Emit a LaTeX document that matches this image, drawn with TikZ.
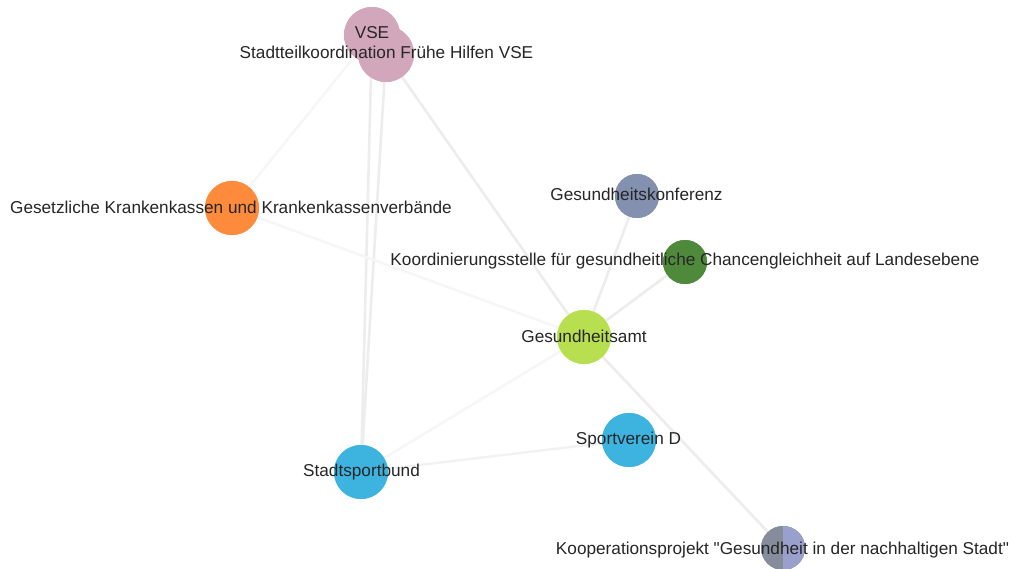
\documentclass[tikz,border=0pt]{standalone}
\usepackage{fontspec}
\setmainfont{Liberation Sans}[Ligatures=TeXOff]
\begin{document}
\begin{tikzpicture}[x=1pt,y=-1pt,
  actor/.style={circle,draw=none,inner sep=0pt,minimum size=#1},
  actor/.default=54pt,
  lbl/.style={inner sep=0pt,text height=12pt,text depth=0pt,
    font=\fontsize{17.2pt}{19pt}\selectfont,text=black!85},
  tie/.style={draw=black!7,line width=2.6pt},
  weak/.style={draw=black!3.5,line width=2.4pt}]
\definecolor{vsepink}{HTML}{D3A7BB}
\definecolor{kkorange}{HTML}{FD8B3B}
\definecolor{slate}{HTML}{8390B0}
\definecolor{landgreen}{HTML}{4F8A3C}
\definecolor{amtgreen}{HTML}{B7DF4F}
\definecolor{sportblue}{HTML}{3DB4E0}
\definecolor{koopgray}{HTML}{858C9C}
\definecolor{kooplilac}{HTML}{99A0CC}
% canvas
\fill[white] (0,0) rectangle (1012,569);
\useasboundingbox (0,0) rectangle (1012,569);
% actors
\node[actor=56pt,fill=vsepink] (vse) at (372,35) {};
\node[actor=56pt,fill=vsepink] (stk) at (386,54) {};
\node[actor,fill=kkorange] (gkk) at (232,208) {};
\node[actor=44pt,fill=slate] (gk) at (637,196) {};
\node[actor=44pt,fill=landgreen] (kgc) at (685,262) {};
\node[actor,fill=amtgreen] (ga) at (584,337) {};
\node[actor,fill=sportblue] (svd) at (629,440) {};
\node[actor,fill=sportblue] (ssb) at (361,472) {};
\node[actor=44pt,fill=koopgray] (koop) at (783,548) {};
% relations
\draw[tie] (vse) -- (ssb);
\draw[tie] (stk) -- (ssb);
\draw[tie] (stk) -- (ga);
\draw[weak] (vse) -- (gkk);
\draw[weak] (gkk) -- (ga);
\draw[tie] (gk) -- (ga);
\draw[tie] (kgc) -- (ga);
\draw[tie] (ga) -- (koop);
\draw[weak] (ga) -- (ssb);
\draw[weak,draw=red!4!black!5] (ssb) -- (svd);
% circles drawn again above the relations
\fill[vsepink] (vse) circle (28pt);
\fill[vsepink] (stk) circle (28pt);
\fill[kkorange] (gkk) circle (27pt);
\fill[slate] (gk) circle (22pt);
\fill[landgreen] (kgc) circle (22pt);
\fill[amtgreen] (ga) circle (27pt);
\fill[sportblue] (svd) circle (27pt);
\fill[sportblue] (ssb) circle (27pt);
\fill[koopgray] (koop) circle (22pt);
\begin{scope}
  \clip (783,520) rectangle (810,575);
  \fill[kooplilac] (koop) circle (22pt);
\end{scope}
% labels
\node[lbl] (vse-l) at (372,33) {VSE};
\node[lbl] (stk-l) at (386.5,53) {Stadtteilkoordination Frühe Hilfen VSE};
\node[lbl] (gkk-l) at (231,208) {Gesetzliche Krankenkassen und Krankenkassenverbände};
\node[lbl] (gk-l) at (636.5,195) {Gesundheitskonferenz};
\node[lbl] (kgc-l) at (685,260) {Koordinierungsstelle für gesundheitliche Chancengleichheit auf Landesebene};
\node[lbl] (ga-l) at (584,336) {Gesundheitsamt};
\node[lbl] (svd-l) at (628.5,438) {Sportverein D};
\node[lbl] (ssb-l) at (361.5,470) {Stadtsportbund};
\node[lbl] (koop-l) at (782.5,548) {Kooperationsprojekt "Gesundheit in der nachhaltigen Stadt"};
\end{tikzpicture}
\end{document}
